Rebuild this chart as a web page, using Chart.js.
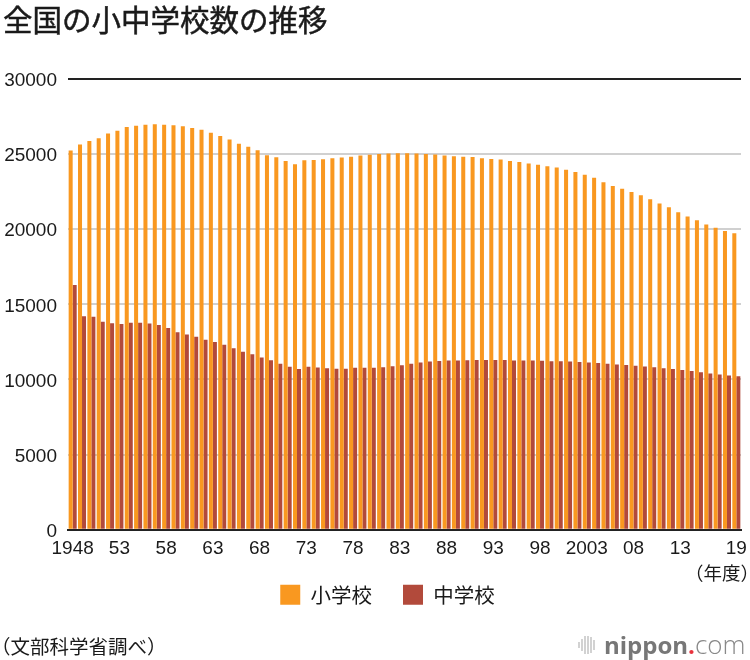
<!DOCTYPE html>
<html lang="ja">
<head>
<meta charset="utf-8">
<title>全国の小中学校数の推移</title>
<script src="https://cdn.jsdelivr.net/npm/chart.js@4/dist/chart.umd.min.js"></script>
<style>
  html, body { margin: 0; background: #fff; }
  #wrap { position: relative; width: 750px; height: 660px; overflow: hidden; }
  #chart { position: absolute; left: 0; top: 0; }
  .txt { position: absolute; white-space: nowrap; color: #1a1a1a; font-family: "Noto Sans CJK JP", sans-serif; }
  #title { left: 3px; top: 0; font-size: 29.5px; line-height: 36px; font-weight: 400; -webkit-text-stroke: 0.5px #1a1a1a; }
  #unit { left: 685px; top: 560px; font-size: 18.5px; line-height: 24px; }
  #source { left: -9px; top: 634px; font-size: 19.5px; line-height: 24px; }
  #logo { left: 604px; top: 627px; font-family: "Open Sans", sans-serif; font-size: 24px; line-height: 34px; color: #777; font-weight: 700; }
  #logo .dot { color: #e8323c; }
  #logo .com { font-weight: 300; font-size: 26px; color: #888; }
  #mark { position: absolute; left: 577px; top: 634px; }
</style>
</head>
<body>
<div id="wrap">
  <canvas id="chart" width="750" height="660"></canvas>
  <div class="txt" id="title">全国の小中学校数の推移</div>
  <div class="txt" id="unit">（年度）</div>
  <div class="txt" id="source">（文部科学省調べ）</div>
  <svg id="mark" width="20" height="22" stroke="#bbb" stroke-width="1.3">
    <path d="M2 8V14M5 5V17M8 2V20M11 2V20M14 3V19M17 6V16"/>
  </svg>
  <div class="txt" id="logo">nippon<span class="dot">.</span><span class="com">com</span></div>
</div>
<script>
const years = [
  1948, 1949, 1950, 1951, 1952, 1953, 1954, 1955, 1956, 1957, 1958, 1959,
  1960, 1961, 1962, 1963, 1964, 1965, 1966, 1967, 1968, 1969, 1970, 1971,
  1972, 1973, 1974, 1975, 1976, 1977, 1978, 1979, 1980, 1981, 1982, 1983,
  1984, 1985, 1986, 1987, 1988, 1989, 1990, 1991, 1992, 1993, 1994, 1995,
  1996, 1997, 1998, 1999, 2000, 2001, 2002, 2003, 2004, 2005, 2006, 2007,
  2008, 2009, 2010, 2011, 2012, 2013, 2014, 2015, 2016, 2017, 2018, 2019
]
const elementary = [
  25240, 25640, 25880, 26060, 26380, 26560, 26800, 26880, 26960, 26990, 26960, 26920,
  26860, 26740, 26620, 26420, 26210, 25980, 25690, 25490, 25260, 24920, 24790, 24540,
  24330, 24590, 24610, 24650, 24720, 24780, 24830, 24900, 24950, 25000, 25040, 25050,
  25060, 25040, 25010, 24980, 24900, 24850, 24830, 24800, 24730, 24680, 24640, 24550,
  24480, 24380, 24300, 24190, 24110, 23960, 23810, 23630, 23420, 23120, 22880, 22690,
  22480, 22260, 22000, 21720, 21460, 21130, 20850, 20600, 20310, 20100, 19890, 19740
]
const juniorHigh = [
  16290, 14200, 14170, 13840, 13750, 13690, 13770, 13770, 13720, 13620, 13420, 13140,
  12990, 12850, 12650, 12500, 12310, 12080, 11850, 11680, 11460, 11280, 11040, 10840,
  10690, 10840, 10800, 10750, 10720, 10720, 10780, 10780, 10780, 10810, 10880, 10950,
  11050, 11130, 11190, 11230, 11270, 11260, 11280, 11290, 11290, 11290, 11290, 11270,
  11270, 11260, 11240, 11220, 11210, 11190, 11160, 11130, 11100, 11040, 10990, 10960,
  10920, 10860, 10820, 10750, 10700, 10630, 10560, 10480, 10400, 10330, 10270, 10220
]
const shownYears = [1948, 1953, 1958, 1963, 1968, 1973, 1978, 1983, 1988, 1993, 1998, 2003, 2008, 2013, 2019]
const shownLabels = ['1948', '53', '58', '63', '68', '73', '78', '83', '88', '93', '98', '2003', '08', '13', '19']

const tickFont = { family: '"Liberation Sans", Arial, sans-serif', size: 19 }

// the legend sits right of centre in the original, so nudge it after layout
const legendNudge = {
  id: 'legendNudge',
  afterLayout(chart) {
    const legend = chart.legend
    legend.left += 17
    legend.right += 17
    legend.top -= 7
    legend.bottom -= 7
  }
}

new Chart(document.getElementById('chart'), {
  type: 'bar',
  data: {
    labels: years,
    datasets: [
      { label: '小学校', data: elementary, backgroundColor: '#F99820', categoryPercentage: 0.86, barPercentage: 1 },
      { label: '中学校', data: juniorHigh, backgroundColor: '#B24A3B', categoryPercentage: 0.86, barPercentage: 1 }
    ]
  },
  plugins: [legendNudge],
  options: {
    responsive: false,
    animation: false,
    layout: { padding: { left: 0, right: 9, top: 79, bottom: 38 } },
    plugins: {
      tooltip: { enabled: false },
      legend: {
        position: 'bottom',
        onClick: null,
        labels: {
          boxWidth: 20,
          boxHeight: 20,
          padding: 31,
          color: '#1a1a1a',
          font: { family: '"Noto Sans CJK JP", sans-serif', size: 20.5 }
        }
      }
    },
    scales: {
      x: {
        grid: { display: false },
        border: { color: '#222', width: 2 },
        ticks: {
          autoSkip: false,
          maxRotation: 0,
          minRotation: 0,
          padding: 0,
          color: '#1a1a1a',
          font: tickFont,
          callback(value, index) {
            const at = shownYears.indexOf(years[index])
            return at < 0 ? '' : shownLabels[at]
          }
        }
      },
      y: {
        min: 0,
        max: 30000,
        afterFit(scale) { scale.width = 68 },
        border: { display: false },
        grid: {
          drawTicks: false,
          lineWidth: 2,
          color: ctx => ctx.tick.value === 30000 ? '#222' : '#d0d0d0'
        },
        ticks: {
          stepSize: 5000,
          padding: 11,
          color: '#1a1a1a',
          font: { ...tickFont, lineHeight: '4px' },
          // empty first line drops the number about 2px below its grid line, as in the original
          callback: value => ['', String(value)]
        }
      }
    }
  }
})
</script>
</body>
</html>
